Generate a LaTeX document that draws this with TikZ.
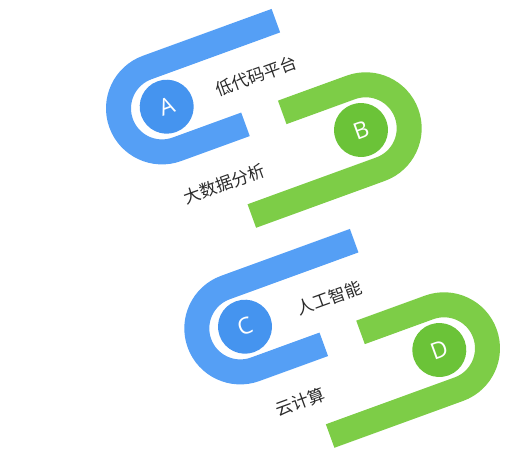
\documentclass[tikz,border=0pt]{standalone}
\usepackage{fontspec}
\newfontfamily\cjkfont{Noto Sans CJK SC}
\newfontfamily\letterfont{Open Sans}
\usetikzlibrary{positioning}
\definecolor{bandblue}{HTML}{559FF5}
\definecolor{dotblue}{HTML}{4594EF}
\definecolor{bandgreen}{HTML}{7DCD47}
\definecolor{dotgreen}{HTML}{6BC338}
\definecolor{textgray}{HTML}{2B2B2B}
% one U shaped band, drawn in its own rotated frame
\newcommand{\uband}[4]{%
	\begin{scope}[shift={(#1,#2)},rotate=#3]
		\fill [#4] (132,56) -- (-5,56) arc (90:270:56) -- (68,-56) -- (68,-31)
			-- (-5,-31) arc (270:90:31) -- (132,31) -- cycle;
	\end{scope}}

\begin{document}
\begin{tikzpicture}[x=1pt,y=1pt,
		dot/.style={circle,minimum size=54pt,inner sep=0pt,text=white,rotate=20,
			font=\letterfont\fontsize{23}{23}\selectfont},
		tag/.style={text=textgray,rotate=20,inner sep=0pt,
			font=\cjkfont\fontsize{17}{17}\selectfont}]
		\useasboundingbox (0,0) rectangle (531,-455);

		\uband{166.7}{-106.7}{20}{bandblue}
		\uband{361}{-130}{200}{bandgreen}
		\uband{245}{-326.7}{20}{bandblue}
		\uband{439.3}{-350}{200}{bandgreen}

		\node [dot,fill=dotblue] (A) at (166.7,-106.7) {A};
		\node [dot,fill=dotgreen] (B) at (361,-130) {B};
		\node [dot,fill=dotblue] (C) at (245,-326.7) {C};
		\node [dot,fill=dotgreen] (D) at (439.3,-350) {D};

		\node [tag] (lowcode) at (256,-76) {低代码平台};
		\node [tag] (bigdata) at (224,-184) {大数据分析};
		\node [tag] (ai) at (329,-298) {人工智能};
		\node [tag] (cloud) at (300,-402) {云计算};
	\end{tikzpicture}
\end{document}
